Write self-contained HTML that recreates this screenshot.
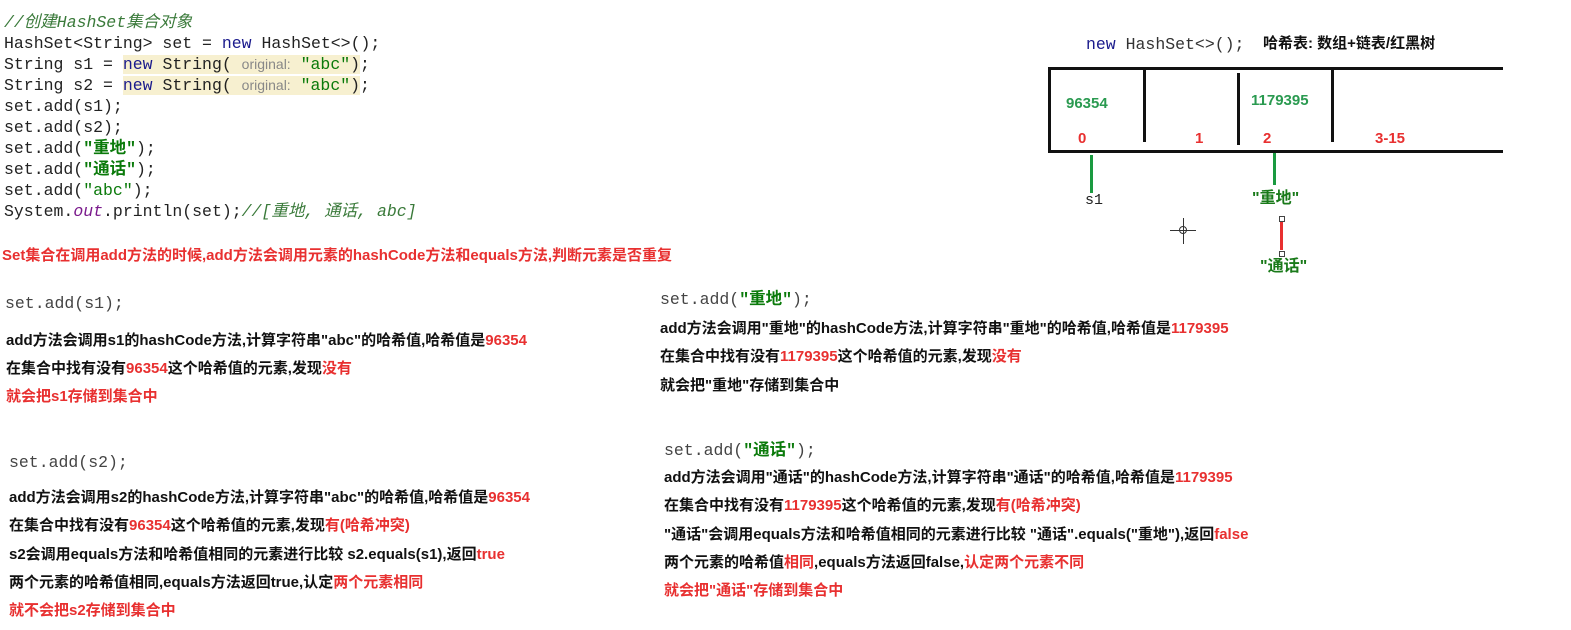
<!DOCTYPE html>
<html><head><meta charset="utf-8"><style>
body{margin:0;width:1571px;height:630px;background:#fff;position:relative;overflow:hidden;font-family:"Liberation Sans","Noto Sans CJK SC",sans-serif}
.a{position:absolute;white-space:nowrap}
.c{font-family:"Liberation Mono","Noto Sans CJK SC",monospace;font-size:16.5px;color:#222;line-height:21px}
.c2{font-family:"Liberation Mono","Noto Sans CJK SC",monospace;font-size:16.5px;color:#444;line-height:21px}
.k{color:#1a1a8c}.s{color:#0a7a0a}.g{color:#2a2}.cm{color:#3a7a3a;font-style:italic}
.t{font-size:15px;font-weight:bold;color:#111;line-height:18px}
.r{color:#e83030}
.hl{background:#f7f0d0}.hint{color:#888;font-family:"Liberation Sans",sans-serif;font-size:14px}
</style></head><body>
<div class="a c" style="left:4px;top:12px">
<div class="cm">//创建HashSet集合对象</div>
<div>HashSet&lt;String&gt; set = <span class="k">new</span> HashSet&lt;&gt;();</div>
<div>String s1 = <span class="hl"><span class="k">new</span> String( <span class="hint">original:</span> <span class="s">"abc"</span>)</span>;</div>
<div>String s2 = <span class="hl"><span class="k">new</span> String( <span class="hint">original:</span> <span class="s">"abc"</span>)</span>;</div>
<div>set.add(s1);</div>
<div>set.add(s2);</div>
<div>set.add(<span class="s" style="font-weight:bold">"重地"</span>);</div>
<div>set.add(<span class="s" style="font-weight:bold">"通话"</span>);</div>
<div>set.add(<span class="s">"abc"</span>);</div>
<div>System.<span style="color:#7a1a8c;font-style:italic">out</span>.println(set);<span class="cm">//[重地, 通话, abc]</span></div>
</div>
<div class="a t r" style="left:2px;top:247px">Set集合在调用add方法的时候,add方法会调用元素的hashCode方法和equals方法,判断元素是否重复</div>

<div class="a c2" style="left:5px;top:293px">set.add(s1);</div>
<div class="a t" style="left:6px;top:332px">add方法会调用s1的hashCode方法,计算字符串"abc"的哈希值,哈希值是<span class="r">96354</span></div>
<div class="a t" style="left:6px;top:360px">在集合中找有没有<span class="r">96354</span>这个哈希值的元素,发现<span class="r">没有</span></div>
<div class="a t r" style="left:6px;top:388px">就会把s1存储到集合中</div>

<div class="a c2" style="left:9px;top:452px">set.add(s2);</div>
<div class="a t" style="left:9px;top:489px">add方法会调用s2的hashCode方法,计算字符串"abc"的哈希值,哈希值是<span class="r">96354</span></div>
<div class="a t" style="left:9px;top:517px">在集合中找有没有<span class="r">96354</span>这个哈希值的元素,发现<span class="r">有(哈希冲突)</span></div>
<div class="a t" style="left:9px;top:546px">s2会调用equals方法和哈希值相同的元素进行比较 s2.equals(s1),返回<span class="r">true</span></div>
<div class="a t" style="left:9px;top:574px">两个元素的哈希值相同,equals方法返回true,认定<span class="r">两个元素相同</span></div>
<div class="a t r" style="left:9px;top:602px">就不会把s2存储到集合中</div>

<div class="a c2" style="left:660px;top:289px">set.add(<span class="s" style="font-weight:bold">"重地"</span>);</div>
<div class="a t" style="left:660px;top:320px">add方法会调用"重地"的hashCode方法,计算字符串"重地"的哈希值,哈希值是<span class="r">1179395</span></div>
<div class="a t" style="left:660px;top:348px">在集合中找有没有<span class="r">1179395</span>这个哈希值的元素,发现<span class="r">没有</span></div>
<div class="a t" style="left:660px;top:377px">就会把"重地"存储到集合中</div>

<div class="a c2" style="left:664px;top:440px">set.add(<span class="s" style="font-weight:bold">"通话"</span>);</div>
<div class="a t" style="left:664px;top:469px">add方法会调用"通话"的hashCode方法,计算字符串"通话"的哈希值,哈希值是<span class="r">1179395</span></div>
<div class="a t" style="left:664px;top:497px">在集合中找有没有<span class="r">1179395</span>这个哈希值的元素,发现<span class="r">有(哈希冲突)</span></div>
<div class="a t" style="left:664px;top:526px">"通话"会调用equals方法和哈希值相同的元素进行比较 "通话".equals("重地"),返回<span class="r">false</span></div>
<div class="a t" style="left:664px;top:554px">两个元素的哈希值<span class="r">相同</span>,equals方法返回false,<span class="r">认定两个元素不同</span></div>
<div class="a t r" style="left:664px;top:582px">就会把"通话"存储到集合中</div>

<div class="a c" style="left:1086px;top:34px;color:#333"><span class="k">new</span> HashSet&lt;&gt;();</div>
<div class="a t" style="left:1263px;top:35px">哈希表: 数组+链表/红黑树</div>
<div class="a" style="left:1048px;top:67px;width:452px;height:80px;border:3px solid #111;border-right:none"></div>
<div class="a" style="left:1143px;top:70px;width:3px;height:72px;background:#111"></div>
<div class="a" style="left:1237px;top:73px;width:3px;height:72px;background:#111"></div>
<div class="a" style="left:1331px;top:70px;width:3px;height:72px;background:#111"></div>
<div class="a t" style="left:1066px;top:95px;color:#2a9a50">96354</div>
<div class="a t" style="left:1251px;top:92px;color:#2a9a50">1179395</div>
<div class="a t r" style="left:1078px;top:130px">0</div>
<div class="a t r" style="left:1195px;top:130px">1</div>
<div class="a t r" style="left:1263px;top:130px">2</div>
<div class="a t r" style="left:1375px;top:130px">3-15</div>
<div class="a" style="left:1090px;top:155px;width:3px;height:38px;background:#1a9a40"></div>
<div class="a c" style="left:1085px;top:190px;font-size:15px">s1</div>
<div class="a" style="left:1273px;top:153px;width:3px;height:32px;background:#1a9a40"></div>
<div class="a t" style="left:1252px;top:190px;font-size:16px;color:#1a7a1a">"重地"</div>
<div class="a" style="left:1279px;top:216px;width:4px;height:4px;border:1px solid #444;background:#fff"></div>
<div class="a" style="left:1280px;top:222px;width:3px;height:28px;background:#e83030"></div>
<div class="a" style="left:1279px;top:251px;width:4px;height:4px;border:1px solid #444;background:#fff"></div>
<div class="a t" style="left:1260px;top:258px;font-size:16px;color:#1a7a1a">"通话"</div>
<div class="a" style="left:1170px;top:230px;width:26px;height:1px;background:#333"></div>
<div class="a" style="left:1183px;top:218px;width:1px;height:26px;background:#333"></div>
<div class="a" style="left:1179px;top:226px;width:6px;height:6px;border:1px solid #333;border-radius:50%"></div>
</body></html>
